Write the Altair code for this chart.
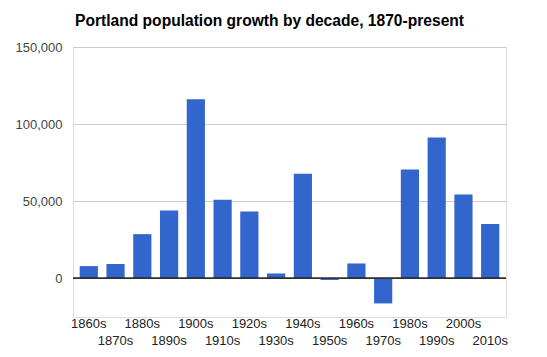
import altair as alt
import pandas as pd

decades = ["1860s", "1870s", "1880s", "1890s", "1900s", "1910s", "1920s", "1930s", "1940s",
           "1950s", "1960s", "1970s", "1980s", "1990s", "2000s", "2010s"]
growth = [8000, 9300, 28700, 44000, 116200, 51000, 43400, 3200, 67800,
          -1000, 9700, -16200, 70600, 91400, 54400, 35200]
y_ticks = [0, 50000, 100000, 150000]

df = pd.DataFrame({"decade": decades, "growth": growth})

FONT = "Liberation Sans"

label_expr = ("(floor(toNumber(substring(datum.label, 0, 4)) / 10) % 2) == 1 "
              "? ['', datum.label] : datum.label")

x = alt.X(
    "decade:N",
    sort=decades,
    scale=alt.Scale(paddingInner=0.32, paddingOuter=0.25),
    axis=alt.Axis(
        title=None, domain=False, ticks=False, labelAngle=0,
        labelExpr=label_expr, labelFont=FONT, labelFontSize=13,
        labelColor="#222222", labelPadding=0, labelBaseline="top",
        labelLineHeight=17, labelOverlap=False, grid=False,
    ),
)
y = alt.Y(
    "growth:Q",
    scale=alt.Scale(domain=[-25000, 150000], nice=False),
    axis=alt.Axis(
        title=None, domain=False, ticks=False, values=y_ticks, format=",.0f",
        labelFont=FONT, labelFontSize=13, labelColor="#444444",
        labelPadding=11, gridColor="#cccccc",
    ),
)

bars = alt.Chart(df).mark_bar(color="#3366cc").encode(x=x, y=y)
zero = alt.Chart(df).mark_rule(color="#333333", strokeWidth=1).encode(y=alt.datum(0))

chart = alt.layer(bars, zero).properties(
    width=433,
    height=270,
    autosize=alt.AutoSizeParams(type="none"),
    padding={"left": 73, "top": 47, "right": 41, "bottom": 40},
    title=alt.Title(
        "Portland population growth by decade, 1870-present",
        anchor="start", frame="group", font=FONT, fontSize=15.6,
        fontWeight="bold", color="#000000", baseline="alphabetic",
        offset=0, dx=2, dy=1,
    ),
).configure_view(stroke=None).configure(background="white")

chart.save("out.html", embed_options={"renderer": "svg", "actions": False})
